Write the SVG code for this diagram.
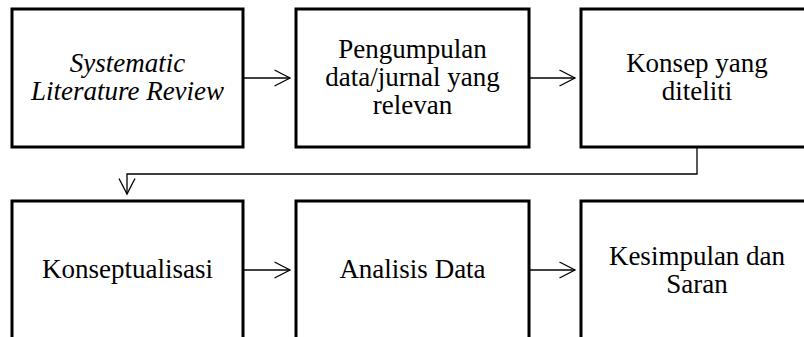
<svg xmlns="http://www.w3.org/2000/svg" width="804" height="337" viewBox="0 0 804 337">
<style>
.box{fill:#fff;stroke:#000;stroke-width:3}
.t{font-family:"Liberation Serif","Times New Roman",serif;font-size:27px;fill:#000;text-anchor:middle}
.i{font-style:italic}
.c{fill:none;stroke:#000;stroke-width:1.3}
</style>
<defs>
<marker id="ah" viewBox="0 0 18 18" refX="16.5" refY="9" markerWidth="18" markerHeight="18" markerUnits="userSpaceOnUse" orient="auto">
<path d="M1 1 L16.5 9 L1 17" fill="none" stroke="#000" stroke-width="1.3"/>
</marker>
</defs>
<rect width="804" height="337" fill="#fff"/>
<g id="n1"><rect class="box" x="12" y="9" width="231" height="138"/>
<text class="t i" x="127.5" y="72">Systematic</text><text class="t i" x="127.5" y="100">Literature Review</text></g>
<g id="n2"><rect class="box" x="296" y="9" width="233" height="138"/>
<text class="t" x="412.5" y="58">Pengumpulan</text><text class="t" x="412.5" y="86">data/jurnal yang</text><text class="t" x="412.5" y="114">relevan</text></g>
<g id="n3"><rect class="box" x="581" y="9" width="232" height="138"/>
<text class="t" x="697" y="72">Konsep yang</text><text class="t" x="697" y="100">diteliti</text></g>
<g id="n4"><rect class="box" x="12" y="201" width="231" height="150"/>
<text class="t" x="127.5" y="278">Konseptualisasi</text></g>
<g id="n5"><rect class="box" x="296" y="201" width="233" height="150"/>
<text class="t" x="412.5" y="278">Analisis Data</text></g>
<g id="n6"><rect class="box" x="581" y="201" width="232" height="150"/>
<text class="t" x="697" y="265">Kesimpulan dan</text><text class="t" x="697" y="293">Saran</text></g>
<g id="connectors">
<path class="c" d="M243 78 H290" marker-end="url(#ah)"/>
<path class="c" d="M529 78 H575" marker-end="url(#ah)"/>
<path class="c" d="M697 147 V174 H127 V194" marker-end="url(#ah)"/>
<path class="c" d="M243 270 H290" marker-end="url(#ah)"/>
<path class="c" d="M529 270 H575" marker-end="url(#ah)"/>
</g>
</svg>
